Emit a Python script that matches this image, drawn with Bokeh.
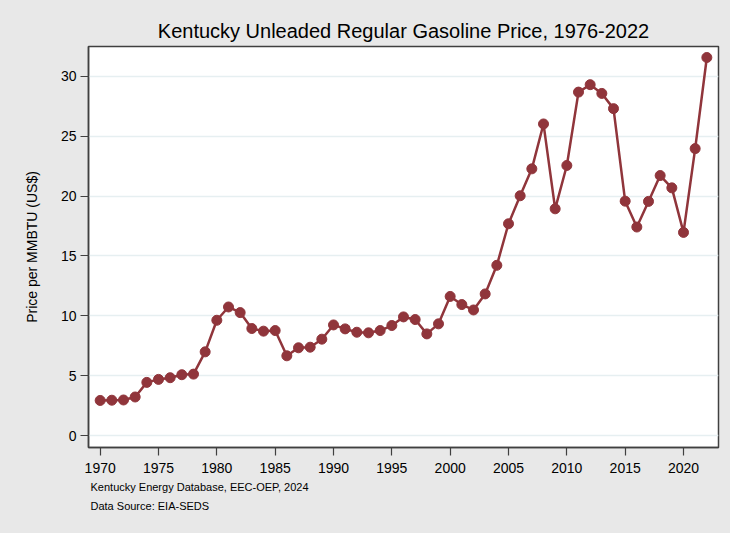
from bokeh.plotting import figure
from bokeh.models import Range1d, FixedTicker, Title, GlobalInlineStyleSheet
from bokeh.embed import file_html
from bokeh.resources import INLINE

years = list(range(1970, 2023))
prices = [2.93, 2.95, 2.97, 3.22, 4.44, 4.69, 4.83, 5.08, 5.13, 6.99,
          9.63, 10.74, 10.27, 8.94, 8.72, 8.77, 6.66, 7.33, 7.38, 8.05,
          9.24, 8.91, 8.63, 8.58, 8.77, 9.19, 9.91, 9.69, 8.49, 9.33,
          11.62, 10.94, 10.49, 11.83, 14.22, 17.69, 20.03, 22.28, 26.03, 18.94,
          22.56, 28.69, 29.31, 28.58, 27.31, 19.58, 17.42, 19.56, 21.72, 20.69,
          16.97, 23.97, 31.58]
x_ticks = [1970, 1975, 1980, 1985, 1990, 1995, 2000, 2005, 2010, 2015, 2020]
y_ticks = [0, 5, 10, 15, 20, 25, 30]
title_text = "Kentucky Unleaded Regular Gasoline Price, 1976-2022"
y_label = "Price per MMBTU (US$)"
notes = ["Kentucky Energy Database, EEC-OEP, 2024", "Data Source: EIA-SEDS"]

BG = "#e8e8e8"
LINE = "#90353b"
FONT = "Liberation Sans"

p = figure(width=730, height=533, output_backend="svg", toolbar_location=None,
           x_range=Range1d(1969, 2023), y_range=Range1d(-1, 32.5),
           min_border_left=88, min_border_right=12, min_border_top=46,
           min_border_bottom=86)
p.stylesheets = [GlobalInlineStyleSheet(css="body { background: %s; }" % BG)]

p.background_fill_color = "white"
p.border_fill_color = BG
p.outline_line_color = "#404040"
p.outline_line_width = 1.5

p.title.text = title_text
p.title.text_font = FONT
p.title.text_font_size = "20px"
p.title.text_font_style = "normal"
p.title.text_color = "#000000"
p.title.align = "center"
p.title.standoff = 9

p.line(years, prices, line_color=LINE, line_width=2.5)
p.scatter(years, prices, size=10, fill_color=LINE, line_color=LINE)

p.xaxis.ticker = FixedTicker(ticks=x_ticks)
p.yaxis.ticker = FixedTicker(ticks=y_ticks)
for ax in (p.xaxis[0], p.yaxis[0]):
    ax.major_label_text_font = FONT
    ax.major_label_text_font_size = "14px"
    ax.major_label_text_color = "#000000"
    ax.axis_line_color = "#404040"
    ax.axis_line_width = 1.5
    ax.major_tick_line_color = "#404040"
    ax.major_tick_line_width = 1.2
    ax.major_tick_out = 8
    ax.major_tick_in = 0
    ax.minor_tick_line_color = None
    ax.major_label_standoff = 4
p.xaxis.major_label_standoff = 7
p.yaxis.major_label_orientation = "horizontal"
p.yaxis.axis_label = y_label
p.yaxis.axis_label_text_font = FONT
p.yaxis.axis_label_text_font_size = "14px"
p.yaxis.axis_label_text_font_style = "normal"
p.yaxis.axis_label_text_color = "#000000"
p.yaxis.axis_label_standoff = 18

p.xgrid.grid_line_color = None
p.ygrid.grid_line_color = "#e6eff1"
p.ygrid.grid_line_width = 1.5

for i, t in enumerate(notes):
    p.add_layout(Title(text=t, align="left", text_font=FONT, text_font_size="11px",
                       text_font_style="normal", text_color="#000000",
                       offset=2, standoff=7 if i == 0 else 3), "below")

open("out.html", "w").write(file_html(p, INLINE))
